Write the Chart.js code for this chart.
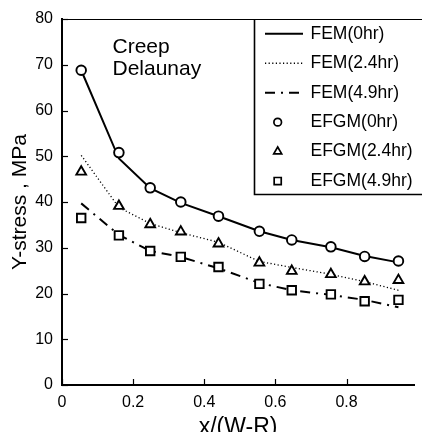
<!DOCTYPE html>
<html><head><meta charset="utf-8">
<script src="https://cdn.jsdelivr.net/npm/chart.js@4/dist/chart.umd.min.js"></script>
<style>html,body{margin:0;padding:0;background:#fff;overflow:hidden}#wrap{width:422px;height:432px}</style>
</head><body><div id="wrap"><canvas id="c" width="422" height="432"></canvas></div>
<script>
const xValues = [0.054, 0.16, 0.248, 0.334, 0.44, 0.555, 0.646, 0.756, 0.851, 0.946];
const fem0 = [68.8, 49.5, 43.0, 39.8, 36.9, 33.6, 31.7, 30.1, 28.2, 26.8];
const fem24 = [50.2, 38.8, 35.3, 33.3, 31.2, 27.0, 25.7, 24.2, 22.6, 20.7];
const fem49 = [39.7, 32.8, 29.3, 28.0, 25.5, 22.3, 20.7, 19.7, 18.6, 17.0];
const efgm0 = [68.8, 50.8, 43.1, 40.0, 36.9, 33.6, 31.7, 30.2, 28.1, 27.1];
const efgm24 = [46.6, 39.1, 35.1, 33.5, 30.9, 26.7, 24.9, 24.2, 22.6, 22.9];
const efgm49 = [36.5, 32.7, 29.3, 28.0, 25.8, 22.1, 20.7, 19.8, 18.3, 18.6];
const seriesLabels = ['FEM(0hr)', 'FEM(2.4hr)', 'FEM(4.9hr)', 'EFGM(0hr)', 'EFGM(2.4hr)', 'EFGM(4.9hr)'];
const yTicks = [0, 10, 20, 30, 40, 50, 60, 70, 80];
const xTicks = [0, 0.2, 0.4, 0.6, 0.8];
const noteLines = ['Creep', 'Delaunay'];
const xTitle = 'x/(W-R)';
const yTitle = 'Y-stress , MPa';

const FONT = '"Liberation Sans", Arial, Helvetica, sans-serif';
const pts = arr => arr.map((v, i) => ({x: xValues[i], y: v}));

function lineDS(label, data, dash, width) {
  return {label, data: pts(data), showLine: true, pointRadius: 0, borderColor: '#000',
    borderWidth: width, borderDash: dash, tension: 0, order: 2, fill: false};
}
function markDS(label, data, style, r) {
  return {label, data: pts(data), showLine: false, pointStyle: style, pointRadius: r,
    pointBorderWidth: 1.9, borderColor: '#000', backgroundColor: '#fff',
    pointBackgroundColor: '#fff', pointBorderColor: '#000', order: 1};
}

function drawMark(ctx, style, x, y, r) {
  ctx.beginPath();
  if (style === 'circle') ctx.arc(x, y, r, 0, Math.PI * 2);
  else if (style === 'triangle') {
    for (let k = 0; k < 3; k++) {
      const a = -Math.PI / 2 + k * 2 * Math.PI / 3;
      const px = x + Math.cos(a) * r, py = y + Math.sin(a) * r;
      k ? ctx.lineTo(px, py) : ctx.moveTo(px, py);
    }
    ctx.closePath();
  } else {
    const s = r * Math.SQRT1_2;
    ctx.rect(x - s, y - s, 2 * s, 2 * s);
  }
  ctx.fill(); ctx.stroke();
}

const decor = {
  id: 'decor',
  afterDatasetsDraw(chart) {
    const {ctx, chartArea: ca, scales} = chart;
    ctx.save();
    ctx.strokeStyle = '#000'; ctx.fillStyle = '#000';
    ctx.lineWidth = 1;
    ctx.beginPath(); ctx.moveTo(ca.left, ca.top + 0.5); ctx.lineTo(chart.width, ca.top + 0.5); ctx.stroke();
    ctx.lineWidth = 1.2;
    scales.y.ticks.forEach(t => {
      const py = Math.round(scales.y.getPixelForValue(t.value)) + 0.5;
      ctx.beginPath(); ctx.moveTo(ca.left, py); ctx.lineTo(ca.left + 6, py); ctx.stroke();
    });
    scales.x.ticks.forEach(t => {
      const px = Math.round(scales.x.getPixelForValue(t.value)) + 0.5;
      ctx.beginPath(); ctx.moveTo(px, ca.bottom); ctx.lineTo(px, ca.bottom - 6); ctx.stroke();
    });
    ctx.font = '21px ' + FONT; ctx.textAlign = 'left'; ctx.textBaseline = 'alphabetic';
    noteLines.forEach((s, i) => ctx.fillText(s, 112.5, 53 + i * 22));
    const bx = 254.5, by = 194.5;
    ctx.fillStyle = '#fff';
    ctx.fillRect(bx, ca.top + 1, chart.width - bx, by - ca.top - 1);
    ctx.fillStyle = '#000';
    ctx.lineWidth = 1.6;
    ctx.beginPath(); ctx.moveTo(bx, ca.top); ctx.lineTo(bx, by); ctx.lineTo(chart.width, by); ctx.stroke();
    ctx.font = '17.5px ' + FONT; ctx.textBaseline = 'middle';
    chart.data.datasets.forEach((ds, i) => {
      const ry = 33.8 + i * 29.45;
      if (ds.showLine) {
        ctx.lineWidth = ds.borderWidth;
        ctx.setLineDash(ds.borderDash || []);
        ctx.beginPath(); ctx.moveTo(265, ry); ctx.lineTo(303, ry); ctx.stroke();
        ctx.setLineDash([]);
      } else {
        ctx.lineWidth = 1.7; ctx.fillStyle = '#fff';
        drawMark(ctx, ds.pointStyle, 277.7, ry, ds.pointStyle === 'rect' ? 5 : (ds.pointStyle === 'triangle' ? 4.6 : 3.8));
        ctx.fillStyle = '#000';
      }
      ctx.fillText(ds.label, 310.5, ry);
    });
    ctx.restore();
  }
};

new Chart(document.getElementById('c'), {
  type: 'scatter',
  data: {
    datasets: [
      lineDS(seriesLabels[0], fem0, [], 2),
      lineDS(seriesLabels[1], fem24, [1.2, 2.4], 1.3),
      lineDS(seriesLabels[2], fem49, [10, 6, 2, 6], 2),
      markDS(seriesLabels[3], efgm0, 'circle', 4.8),
      markDS(seriesLabels[4], efgm24, 'triangle', 5.6),
      markDS(seriesLabels[5], efgm49, 'rect', 6)
    ]
  },
  options: {
    responsive: false, animation: false, devicePixelRatio: 1,
    layout: {padding: {top: 19, right: 1, left: 0, bottom: 0}},
    plugins: {legend: {display: false}, tooltip: {enabled: false}},
    scales: {
      x: {
        type: 'linear', min: 0, max: 0.99,
        afterBuildTicks: s => { s.ticks = xTicks.map(v => ({value: v})); },
        afterFit: s => { s.height = 47; },
        grid: {display: false, drawTicks: false},
        border: {display: true, color: '#000', width: 2},
        ticks: {color: '#000', font: {family: FONT, size: 16}, padding: 8, maxRotation: 0,
          callback: v => String(v)},
        title: {display: true, text: xTitle, color: '#000', font: {family: FONT, size: 23},
          padding: {top: 0, bottom: -9}}
      },
      y: {
        type: 'linear', min: 0, max: 80,
        afterBuildTicks: s => { s.ticks = yTicks.map(v => ({value: v})); },
        afterFit: s => { s.width = 62; },
        grid: {display: false, drawTicks: false},
        border: {display: true, color: '#000', width: 2},
        ticks: {color: '#000', font: {family: FONT, size: 16}, padding: 9,
          callback: v => String(v)},
        title: {display: true, text: yTitle, color: '#000', font: {family: FONT, size: 21},
          padding: {top: 7.7, bottom: 0}}
      }
    }
  },
  plugins: [decor]
});
</script>
</body></html>
